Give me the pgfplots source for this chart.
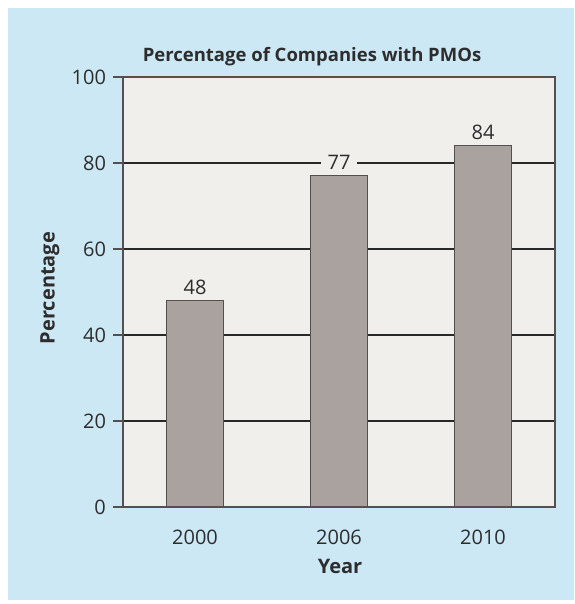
\documentclass[border=0pt]{standalone}
\usepackage{pgfplots}
\pgfplotsset{compat=1.18}
\usepackage{fontspec}
\setmainfont{Open Sans}
\definecolor{bgblue}{RGB}{205,232,245}
\definecolor{plotbg}{RGB}{241,239,236}
\definecolor{barfill}{RGB}{170,162,158}
\definecolor{barline}{RGB}{85,80,78}
\definecolor{txt}{RGB}{45,45,45}
\definecolor{gridc}{RGB}{40,40,40}
\begin{document}
\begin{tikzpicture}[x=1pt,y=1pt]
\fill[white] (0,0) rectangle (287,302);
\fill[bgblue] (4,2) rectangle (287,298);
\useasboundingbox (0,0) rectangle (287,302);
\begin{axis}[
  at={(61.5pt,48.5pt)}, anchor=south west,
  scale only axis, width=216pt, height=215pt,
  xmin=-0.5, xmax=2.5, ymin=0, ymax=100,
  axis background/.style={fill=plotbg},
  axis line style={draw=barline, line width=0.7pt},
  xtick={0,1,2}, xticklabels={2000,2006,2010},
  xtick style={draw=none},
  extra x ticks={-0.5,0.5,1.5,2.5}, extra x tick labels={},
  extra x tick style={tick style={draw=barline,line width=0.7pt}, major tick length=5pt, tick align=outside, grid=none},
  xtick pos=bottom, ytick pos=left,
  ytick={0,20,40,60,80,100},
  tick align=outside, major tick length=5pt,
  ytick style={draw=barline, line width=0.7pt},
  ymajorgrids, grid style={draw=gridc, line width=0.6pt},
  /pgf/number format/assume math mode=true,
  tick label style={font=\fontsize{10pt}{12pt}\selectfont, text=txt},
  xticklabel style={yshift=-3pt},
  ybar, bar width=0.4,
  nodes near coords,
  every node near coord/.append style={font=\fontsize{10pt}{12pt}\selectfont, text=txt, anchor=base, yshift=3pt, fill=plotbg, inner xsep=3.5pt, inner ysep=1pt},
]
\addplot[fill=barfill, draw=barline, line width=0.6pt] coordinates {(0,48) (1,77) (2,84)};
\end{axis}
\node[font=\fontsize{9.25pt}{11pt}\selectfont\bfseries, text=txt, anchor=base] at (156,271) {Percentage of Companies with PMOs};
\node[font=\fontsize{10pt}{12pt}\selectfont\bfseries, text=txt, anchor=base] at (170,15.5) {Year};
\node[font=\fontsize{10pt}{12pt}\selectfont\bfseries, text=txt, rotate=90] at (25,158) {Percentage};
\end{tikzpicture}
\end{document}
